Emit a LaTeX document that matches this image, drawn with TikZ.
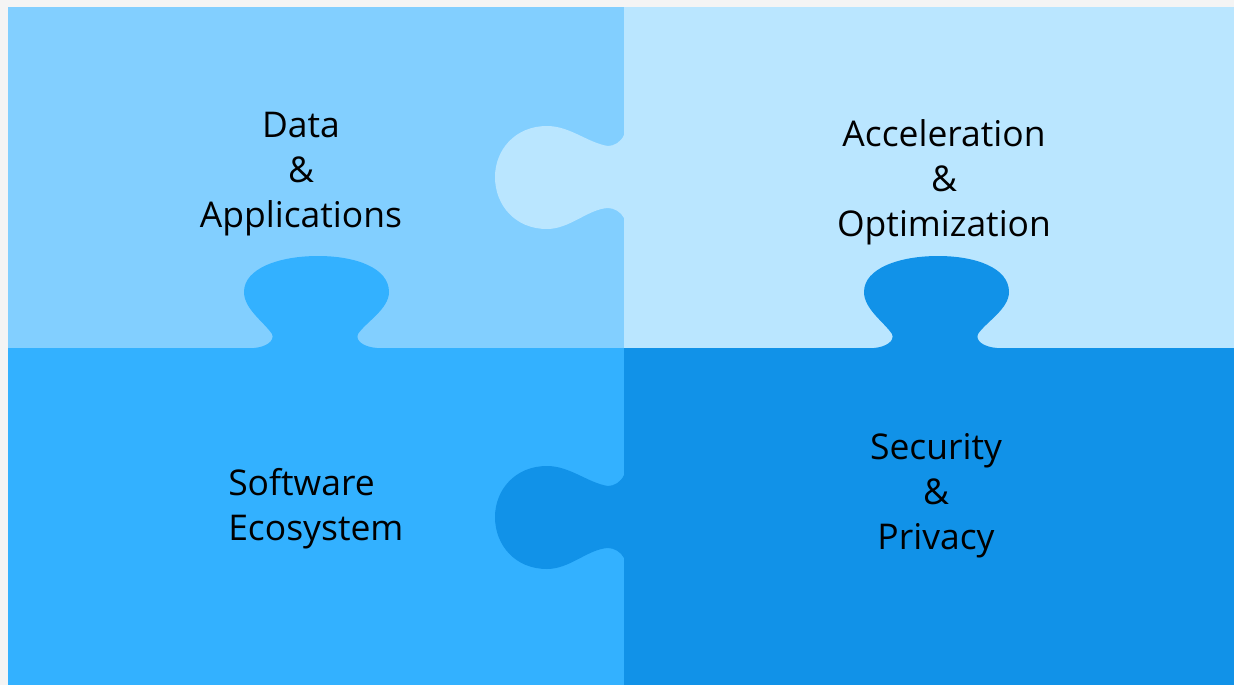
\documentclass[tikz,border=0pt]{standalone}
\usepackage{fontspec}
\setmainfont{Open Sans}
\definecolor{pagegray}{HTML}{F4F4F4}
\definecolor{dataBlue}{HTML}{82CFFF}
\definecolor{accelBlue}{HTML}{BAE6FF}
\definecolor{softBlue}{HTML}{33B1FF}
\definecolor{secBlue}{HTML}{1192E8}
\begin{document}
\begin{tikzpicture}[x=0.75pt,y=-0.75pt,
    piece label/.style={inner sep=0pt,text=black,font=\fontsize{26.6pt}{33.75pt}\selectfont}]
        % Draw page background
        \fill[pagegray] (0,0) rectangle (1234,685);
        % Draw the four pieces
        \fill[dataBlue] (8,7) rectangle (624,348);
        \fill[accelBlue] (624,7) rectangle (1234,348);
        \fill[softBlue] (8,348) rectangle (624,685);
        \fill[secBlue] (624,348) rectangle (1234,685);
        % Draw tabs pointing left
        \foreach \dy/\col in {0/accelBlue,340/secBlue}{
            \begin{scope}[shift={(0,\dy)}]
                \fill[\col] (624,135) .. controls (621,142) and (614,146) .. (608,146)
                    .. controls (588,143) and (570,126) .. (547,126)
                    .. controls (515,126) and (495,150) .. (495,177)
                    .. controls (495,205) and (515,229) .. (547,229)
                    .. controls (570,229) and (588,209) .. (608,208)
                    .. controls (614,208) and (621,212) .. (624,218) -- cycle;
            \end{scope}
        }
        % Draw tabs pointing up
        \foreach \dx/\col in {0/softBlue,620/secBlue}{
            \begin{scope}[shift={(\dx,0)}]
                \fill[\col] (254,348) .. controls (266,347) and (275,341) .. (272,334)
                    .. controls (264,322) and (244,309) .. (244,292)
                    .. controls (244,268) and (280,256) .. (318,256)
                    .. controls (356,256) and (389,268) .. (389,292)
                    .. controls (389,309) and (366,322) .. (358,334)
                    .. controls (355,341) and (364,347) .. (377,348) -- cycle;
            \end{scope}
        }
        % Draw labels
        \node[piece label,align=center] (data) at (301,174) {Data\\\&\\Applications};
        \node[piece label,align=center] (accel) at (944,182) {Acceleration\\\&\\Optimization};
        \node[piece label,align=left,anchor=west] (software) at (228,509) {Software\\Ecosystem};
        \node[piece label,align=center] (security) at (936,496) {Security\\\&\\Privacy};
    \end{tikzpicture}
\end{document}
